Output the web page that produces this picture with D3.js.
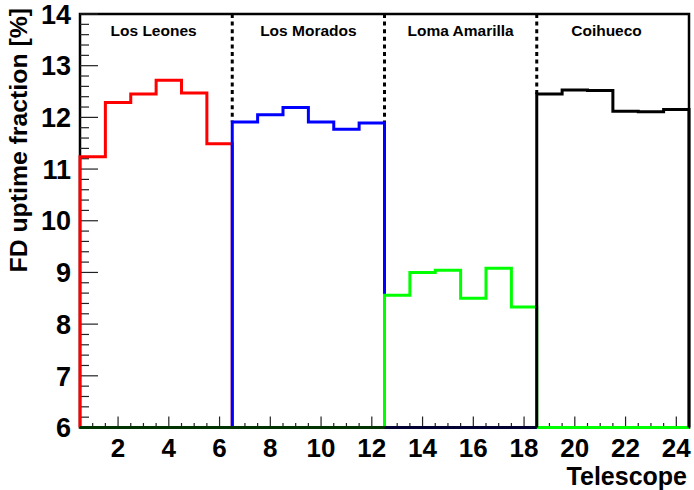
<!DOCTYPE html>
<html>
<head>
<meta charset="utf-8">
<script src="https://cdn.jsdelivr.net/npm/d3@7"></script>
<style>
  html, body { margin: 0; padding: 0; background: #fff; }
  svg { display: block; }
  text { font-family: "Liberation Sans", Arial, Helvetica, sans-serif; font-weight: bold; fill: #000; }
</style>
</head>
<body>
<svg id="chart" width="694" height="490"></svg>
<script>
// FD uptime fraction per telescope, six telescopes per site
const sites = ["Los Leones", "Los Morados", "Loma Amarilla", "Coihueco"];
const losLeones    = [11.24, 12.29, 12.45, 12.72, 12.47, 11.49];
const losMorados   = [11.91, 12.05, 12.19, 11.91, 11.77, 11.89];
const lomaAmarilla = [8.56, 9.00, 9.04, 8.50, 9.08, 8.33];
const coihueco     = [12.45, 12.53, 12.52, 12.12, 12.11, 12.15];
const siteValues = [losLeones, losMorados, lomaAmarilla, coihueco];

const telescopes = d3.range(1, 25);
const xTickLabels = d3.range(2, 25, 2);
const yTickLabels = d3.range(6, 15, 1);
const siteLabelX = [3.4, 9.5, 15.5, 21.25];

// drawing styles (per site histogram)
const siteColors = ["#ff0000", "#0000ff", "#00ff00", "#000000"];
const baselineOpacity = [1, 1, 1, 0.8];

const svg = d3.select("#chart");
const M = { left: 80, right: 689, top: 14, bottom: 427.5 };

const x = d3.scaleLinear().domain([0.5, 24.5]).range([M.left, M.right]);
const y = d3.scaleLinear().domain([6, 14]).range([M.bottom, M.top]);
const yMin = y.domain()[0];

// full 24-bin histograms: a site's bins carry its values, the rest are empty
const hists = siteValues.map((vals, s) =>
  telescopes.map(t => {
    const k = t - 1 - s * 6;
    return (k >= 0 && k < 6) ? vals[k] : 0;
  })
);
const clampV = v => Math.max(v, yMin);

// frame
svg.append("rect")
  .attr("x", M.left).attr("y", M.top)
  .attr("width", M.right - M.left).attr("height", M.bottom - M.top)
  .attr("fill", "none").attr("stroke", "#000").attr("stroke-width", 2.5);

// y axis ticks (major each unit, minor every 0.2)
const yMinor = d3.range(6, 14.001, 0.2).map(v => +v.toFixed(1));
const gy = svg.append("g");
gy.selectAll("line").data(yMinor).join("line")
  .attr("x1", M.left)
  .attr("x2", d => M.left + (Math.abs(d - Math.round(d)) < 1e-6 ? 18 : 9))
  .attr("y1", d => y(d)).attr("y2", d => y(d))
  .attr("stroke", "#222").attr("stroke-width", 1.2);
gy.selectAll("text").data(yTickLabels).join("text")
  .attr("x", 71).attr("y", d => y(d)).attr("dy", "0.36em")
  .attr("text-anchor", "end").style("font-size", "27px")
  .text(d => d);

// x axis ticks (major each 2, minor every 0.5)
const xMinor = d3.range(1, 24.001, 0.5);
const gx = svg.append("g");
gx.selectAll("line").data(xMinor).join("line")
  .attr("x1", d => x(d)).attr("x2", d => x(d))
  .attr("y1", M.bottom)
  .attr("y2", d => M.bottom - (d % 2 === 0 ? 11 : 4.5))
  .attr("stroke", "#222").attr("stroke-width", 1.2);
gx.selectAll("text").data(xTickLabels).join("text")
  .attr("x", d => x(d)).attr("y", 456.5)
  .attr("text-anchor", "middle").style("font-size", "26px")
  .text(d => d);

// axis titles
svg.append("text")
  .attr("x", 687).attr("y", 484.6)
  .attr("text-anchor", "end").style("font-size", "25px")
  .text("Telescope");
svg.append("text")
  .attr("transform", "translate(27,8) rotate(-90)")
  .attr("text-anchor", "end").style("font-size", "24.8px")
  .text("FD uptime fraction [%]");

// dotted separators between sites, from the top down to the higher neighbouring bin
const boundaries = [6.5, 12.5, 18.5];
svg.append("g").selectAll("line").data(boundaries).join("line")
  .attr("x1", d => x(d)).attr("x2", d => x(d))
  .attr("y1", M.top)
  .attr("y2", d => {
    const left = d - 0.5, right = d + 0.5;
    const top = d3.max(hists, h => Math.max(h[left - 1], h[right - 1]));
    return y(top);
  })
  .attr("stroke", "#000").attr("stroke-width", 3)
  .attr("stroke-dasharray", "4,3.6");

// step histograms
const line = d3.line().x(d => x(d[0])).y(d => y(d[1]));
hists.forEach((h, s) => {
  const g = svg.append("g");
  // empty bins sit on the axis minimum
  const runs = [];
  telescopes.forEach((t, i) => {
    if (h[i] <= yMin) {
      const last = runs[runs.length - 1];
      if (last && last[1] === t - 0.5) last[1] = t + 0.5;
      else runs.push([t - 0.5, t + 0.5]);
    }
  });
  runs.forEach(r => {
    g.append("path")
      .attr("d", line([[r[0], yMin], [r[1], yMin]]))
      .attr("fill", "none").attr("stroke", siteColors[s])
      .attr("stroke-width", 3).attr("stroke-opacity", baselineOpacity[s]);
  });
  // filled bins: up from the minimum, across each bin, back down
  const idx = telescopes.map((t, i) => i).filter(i => h[i] > yMin);
  const pts = [[telescopes[idx[0]] - 0.5, yMin]];
  idx.forEach(i => {
    pts.push([telescopes[i] - 0.5, clampV(h[i])]);
    pts.push([telescopes[i] + 0.5, clampV(h[i])]);
  });
  pts.push([telescopes[idx[idx.length - 1]] + 0.5, yMin]);
  g.append("path")
    .attr("d", line(pts))
    .attr("fill", "none").attr("stroke", siteColors[s])
    .attr("stroke-width", 3).attr("stroke-linejoin", "miter");
});

// site names
svg.append("g").selectAll("text").data(sites).join("text")
  .attr("x", (d, i) => x(siteLabelX[i])).attr("y", 36)
  .attr("text-anchor", "middle").style("font-size", "15.5px")
  .text(d => d);
</script>
</body>
</html>
